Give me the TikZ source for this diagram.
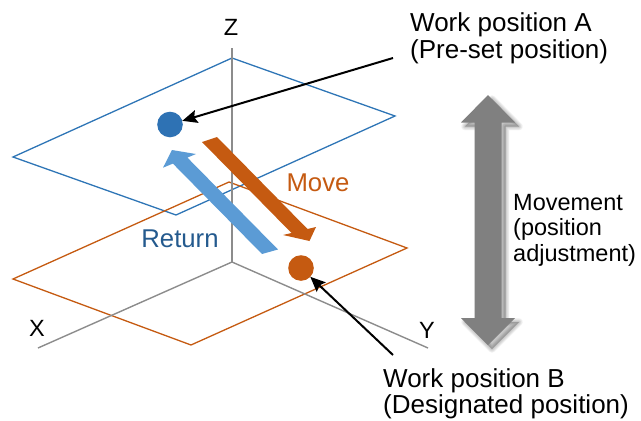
\documentclass[tikz,border=0pt]{standalone}
\usepackage{fontspec}
\setmainfont{Liberation Sans}
\usetikzlibrary{arrows.meta}

\definecolor{planeblue}{HTML}{2E75B6}
\definecolor{dotblue}{HTML}{2E72B4}
\definecolor{retblue}{HTML}{5B9BD5}
\definecolor{rettext}{HTML}{245A8E}
\definecolor{moveorange}{HTML}{C55A11}
\definecolor{axisgray}{HTML}{8C8C8C}
\definecolor{bigarrow}{HTML}{808080}

\tikzset{
  plane/.style={line width=1.3pt, line join=miter},
  axis/.style={axisgray, line width=1.4pt},
  dot/.style={circle, inner sep=0pt, outer sep=0pt, minimum size=25.6pt},
  bigtext/.style={font=\fontsize{26}{26.5}\selectfont, inner sep=0pt, align=left},
  sidetext/.style={font=\fontsize{23.5}{25.5}\selectfont, inner sep=0pt, align=left},
  axislabel/.style={font=\fontsize{23.5}{25}\selectfont, inner sep=0pt},
  pointer/.style={black, line width=2pt, -{Stealth[length=15pt, width=13pt, inset=2.5pt]}},
}

\begin{document}
\begin{tikzpicture}[x=1pt, y=-1pt]
\useasboundingbox (0,0) rectangle (641,421);

% the two work planes
\draw[plane, planeblue]   (232,58)  -- (395,116) -- (176,215) -- (13,157) -- cycle;
\draw[plane, moveorange]  (229,182) -- (407,248) -- (191,345) -- (13,279) -- cycle;

% coordinate axes
\coordinate (O) at (232,262);
\coordinate (zend) at (232,48);
\coordinate (xend) at (38,348);
\coordinate (yend) at (428,348);
\draw[axis] (O) -- (zend);
\draw[axis] (O) -- (xend);
\draw[axis] (O) -- (yend);
\node[axislabel] (zlab) at (231,27) {Z};
\node[axislabel] (xlab) at (37,328) {X};
\node[axislabel] (ylab) at (427,330) {Y};

% return arrow (B -> A)
\fill[retblue] (262,254) -- (172.9,163.6) -- (163,167.7) -- (172,150)
  -- (196,154) -- (187.4,157.6) -- (278,249.5) -- cycle;
% move arrow (A -> B)
\fill[moveorange] (202,142) -- (217,137) -- (307.5,229) -- (316,227)
  -- (309.5,241) -- (283,235) -- (291.5,233) -- cycle;

\node[font=\fontsize{25.7}{27}\selectfont, text=moveorange, inner sep=0pt] (movelab) at (318,183) {Move};
\node[font=\fontsize{25.7}{27}\selectfont, text=rettext, inner sep=0pt] (retlab) at (180,239) {Return};

% work positions
\node[dot, fill=dotblue]     (dotA) at (170,124.5) {};
\node[dot, fill=moveorange]  (dotB) at (301,268) {};

\node[bigtext, anchor=north west] (labA) at (410,12.5) {Work position A\\(Pre-set position)};
\node[bigtext, anchor=north west] (labB) at (383,368) {Work position B\\(Designated position)};

\coordinate (pA) at (393,58);
\coordinate (pB) at (393,355);
\draw[pointer] (pA) -- (dotA);
\draw[pointer] (pB) -- (dotB);

% vertical double arrow with soft shadow
\def\grayarrowpath{(488,95) -- (515,122.5) -- (501.5,122.5) -- (501.5,318) -- (515,318)
  -- (488,345) -- (461,318) -- (474.5,318) -- (474.5,122.5) -- (461,122.5) -- cycle}
\foreach \k in {1,...,7}{
  \filldraw[black, opacity=0.035, line width=\k*1.1pt, line join=round, shift={(4,4)}] \grayarrowpath;
}
\fill[bigarrow] \grayarrowpath;
\coordinate (bigarrow) at (488,220);

\node[sidetext, anchor=north west] (movtext) at (513,194) {Movement\\(position\\adjustment)};
\end{tikzpicture}
\end{document}
